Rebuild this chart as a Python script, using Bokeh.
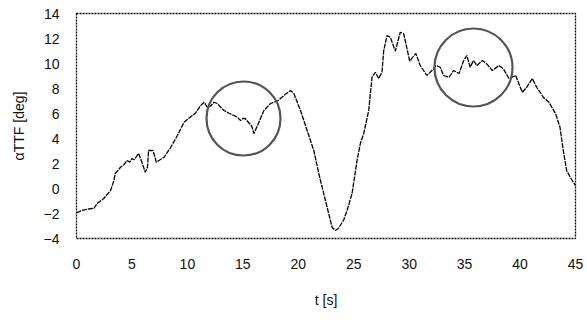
from bokeh.plotting import figure
from bokeh.models import FixedTicker
from bokeh.embed import file_html
from bokeh.resources import INLINE

# Time axis [s] and angle of attack [deg]
t = [0.0, 0.5, 1.0, 1.41, 1.56, 1.86, 2.46, 3.07, 3.37, 3.5, 3.97, 4.27, 4.57,
     4.8, 5.0, 5.2, 5.47, 5.6, 5.9, 6.2, 6.4, 6.5, 6.9, 7.2, 7.9, 8.5, 9.1,
     9.7, 10.1, 10.7, 11.2, 11.5, 11.8, 12.1, 12.4, 12.7, 13.0, 13.3,
     13.8, 14.2, 14.5, 14.8, 15.0, 15.2, 15.5, 15.8, 16.0, 16.4, 16.9, 17.5,
     18.2, 18.7, 19.3, 19.6, 20.2, 20.8, 21.4, 21.85, 22.45, 23.05, 23.35, 23.6,
     23.9, 24.1, 24.4, 24.85, 25.3, 25.6, 25.9, 26.35, 26.65, 26.95, 27.25,
     27.55, 27.7, 28.0, 28.3, 28.75, 29.2, 29.5, 30.05, 30.6, 31.0, 31.6, 32.2,
     32.4, 32.8, 33.1, 33.6, 34.0, 34.5, 34.9, 35.2, 35.5, 35.8, 36.1, 36.6,
     37.0, 37.5, 38.1, 38.5, 39.0, 39.6, 40.2, 40.6, 41.1, 41.5, 42.1, 42.6,
     43.2, 43.6, 43.9, 44.2, 44.7, 45.0]
alpha_ttf = [-1.95, -1.75, -1.65, -1.6, -1.6, -1.2, -0.8, -0.16, 0.64, 1.2, 1.7,
             1.9, 2.24, 2.1, 2.4, 2.3, 2.64, 2.8, 2.1, 1.3, 1.7, 3.04, 3.04,
             2.1, 2.5, 3.3, 4.24, 5.3, 5.6, 6.0, 6.64, 6.9, 6.5, 6.6,
             6.9, 6.8, 6.5, 6.24, 6.0, 5.84, 5.7, 5.44, 5.6, 5.6, 5.3, 5.0, 4.4,
             5.2, 6.24, 6.8, 7.04, 7.44, 7.84, 7.6, 6.24, 4.64, 3.04, 1.2, -0.96,
             -3.1, -3.36, -3.2, -2.8, -2.5, -1.76, -0.4, 2.24, 3.6, 4.4, 6.24,
             8.9, 9.3, 8.8, 9.3, 11.0, 12.24, 12.1, 11.0, 12.5, 12.4, 10.2, 10.8,
             9.84, 9.04, 9.57, 9.84, 9.7, 9.04, 8.9, 9.44, 9.2, 10.2, 10.64,
             9.7, 10.24, 9.84, 10.24, 9.97, 9.44, 9.84, 9.57, 8.8, 9.04, 7.7,
             8.1, 8.8, 8.1, 7.3, 6.9, 6.0, 4.9, 3.04, 1.44, 0.64, 0.24]

# Highlighted regions (centre in data units, radius in pixels)
mark_t = [15.06, 35.8]
mark_alpha = [5.6, 9.68]
mark_radius = [37, 39]

x_ticks = [0, 5, 10, 15, 20, 25, 30, 35, 40, 45]
y_ticks = [-4, -2, 0, 2, 4, 6, 8, 10, 12, 14]

p = figure(width=587, height=320, x_range=(0, 45), y_range=(-4, 14),
           output_backend="svg", toolbar_location=None,
           min_border_left=76, min_border_right=12,
           min_border_top=13, min_border_bottom=82)

p.line(t, alpha_ttf, line_color="black", line_width=1.3, line_dash="5 1")
p.circle(mark_t, mark_alpha, radius=mark_radius, radius_units="screen",
         fill_color=None, line_color="#555555", line_width=2.2)

p.xgrid.visible = False
p.ygrid.visible = False
p.background_fill_color = "white"
p.border_fill_color = "white"
p.outline_line_color = "black"
p.outline_line_dash = "2 1"
p.outline_line_width = 1.3

font = "Liberation Sans"
for ax in (p.xaxis[0], p.yaxis[0]):
    ax.axis_line_color = None
    ax.major_tick_line_color = None
    ax.minor_tick_line_color = None
    ax.major_label_text_font = font
    ax.major_label_text_font_size = "14px"
    ax.major_label_text_color = "#111111"
    ax.axis_label_text_font = font
    ax.axis_label_text_font_size = "14px"
    ax.axis_label_text_font_style = "normal"
    ax.axis_label_text_color = "#111111"

p.xaxis.ticker = FixedTicker(ticks=x_ticks)
p.yaxis.ticker = FixedTicker(ticks=y_ticks)
p.xaxis.major_label_standoff = 14
p.yaxis.major_label_standoff = 11
p.xaxis.axis_label = "t [s]"
p.xaxis.axis_label_standoff = 20
p.yaxis.axis_label = "αTTF [deg]"
p.yaxis.axis_label_standoff = 14

open("out.html", "w").write(file_html(p, INLINE))
